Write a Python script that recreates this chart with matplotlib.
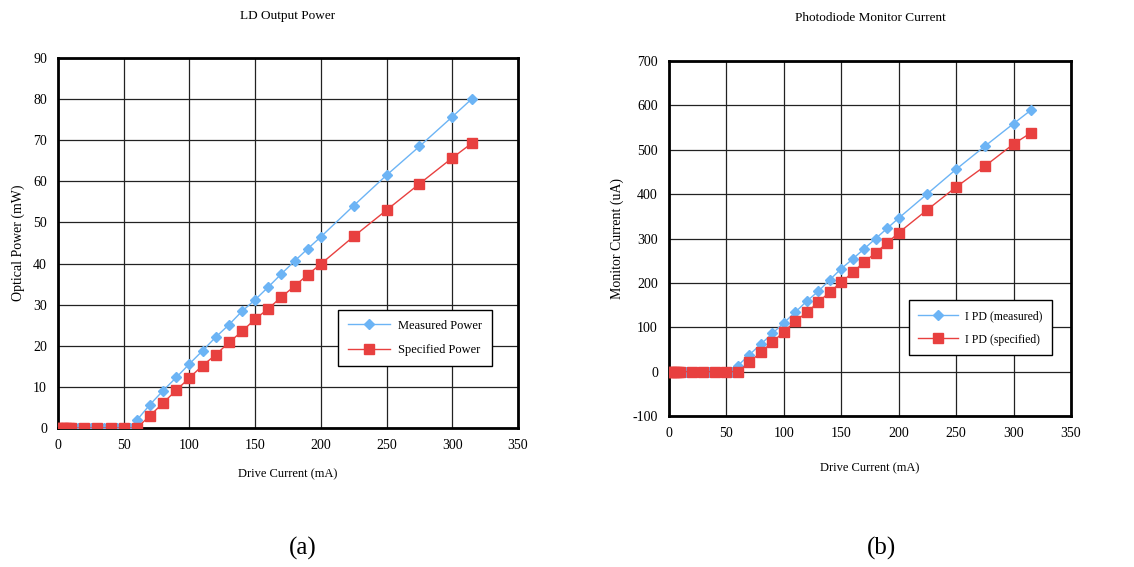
import numpy as np
import matplotlib.pyplot as plt

plt.rcParams['font.family'] = ['Liberation Serif', 'DejaVu Serif']
plt.rcParams['axes.unicode_minus'] = False

# LD output power (mW) vs drive current (mA)
meas_x = [0, 1, 2, 3, 4, 5, 6, 7, 8, 9, 10, 15, 20, 25, 30, 35, 40, 45, 50, 55,
          60, 70, 80, 90, 100, 110, 120, 130, 140, 150, 160, 170, 180, 190, 200,
          225, 250, 275, 300, 315]
meas_power = [0] * 20 + [1.9, 5.7, 9.1, 12.3, 15.6, 18.8, 22.1, 25.1, 28.4, 31.2,
                         34.3, 37.5, 40.6, 43.6, 46.5, 54.1, 61.5, 68.5, 75.7, 80.1]
spec_x = [0, 2, 4, 6, 8, 10, 20, 30, 40, 50,
          60, 70, 80, 90, 100, 110, 120, 130, 140, 150, 160, 170, 180, 190, 200,
          225, 250, 275, 300, 315]
spec_power = [0] * 10 + [0, 3.0, 6.1, 9.2, 12.2, 15.2, 17.8, 20.8, 23.5, 26.5,
                         29.0, 31.9, 34.5, 37.3, 39.9, 46.6, 53.0, 59.4, 65.7, 69.3]

# Photodiode monitor current (uA)
meas_ipd = [0] * 20 + [13.5, 38, 62, 86, 110, 134, 159, 181, 207, 232,
                       254, 277, 300, 323, 346, 401, 456, 508, 559, 589]
spec_ipd = [0] * 10 + [0, 21, 44, 66, 90, 113, 134, 156, 180, 201,
                       224, 247, 268, 290, 313, 365, 416, 463, 513, 538]

BLUE = '#6cb4f5'
RED = '#e8403f'

fig = plt.figure(figsize=(11.34, 5.67), dpi=100)
W, H = 1134, 567

def px_axes(x0, y0, x1, y1):
    return fig.add_axes([x0 / W, 1 - y1 / H, (x1 - x0) / W, (y1 - y0) / H])

ax_a = px_axes(58, 58, 518, 428)
ax_b = px_axes(669, 61, 1071, 416)


def style(ax, ylim, yticks, ylabel, title, xpad, tpad):
    ax.set_xlim(0, 350)
    ax.set_ylim(*ylim)
    ax.set_xticks(np.arange(0, 351, 50))
    ax.set_yticks(yticks)
    ax.grid(True, color='#222222', linewidth=0.9)
    ax.set_axisbelow(True)
    for s in ax.spines.values():
        s.set_linewidth(2)
        s.set_color('black')
    ax.tick_params(length=0, labelsize=10, pad=8)
    ax.set_xlabel('Drive Current (mA)', fontsize=9, labelpad=xpad)
    ax.set_ylabel(ylabel, fontsize=10, labelpad=6)
    ax.set_title(title, fontsize=9.5, pad=tpad)


leg_kw = dict(fancybox=False, edgecolor='black', framealpha=1, borderpad=0.8,
              labelspacing=1.0, handlelength=3.4, handletextpad=0.6)

ax_a.plot(meas_x, meas_power, '-D', color=BLUE, markersize=5, linewidth=1,
          label='Measured Power', zorder=3)
ax_a.plot(spec_x, spec_power, '-s', color=RED, markersize=6.5, linewidth=1,
          label='Specified Power', zorder=3)
style(ax_a, (0, 90), np.arange(0, 91, 10), 'Optical Power (mW)', 'LD Output Power', 12, 28)
ax_a.legend(loc='lower right', bbox_to_anchor=(0.957, 0.15), fontsize=9, **leg_kw)

ax_b.plot(meas_x, meas_ipd, '-D', color=BLUE, markersize=5, linewidth=1,
          label='I PD (measured)', zorder=3)
ax_b.plot(spec_x, spec_ipd, '-s', color=RED, markersize=6.5, linewidth=1,
          label='I PD (specified)', zorder=3)
style(ax_b, (-100, 700), np.arange(-100, 701, 100), 'Monitor Current (uA)',
      'Photodiode Monitor Current', 16, 29)
ax_b.legend(loc='lower right', bbox_to_anchor=(0.968, 0.155), fontsize=8.5, **leg_kw)

fig.text(303 / W, 1 - 548 / H, '(a)', fontsize=18, ha='center', va='center')
fig.text(882 / W, 1 - 548 / H, '(b)', fontsize=18, ha='center', va='center')

fig.savefig('out.png', dpi=100)
